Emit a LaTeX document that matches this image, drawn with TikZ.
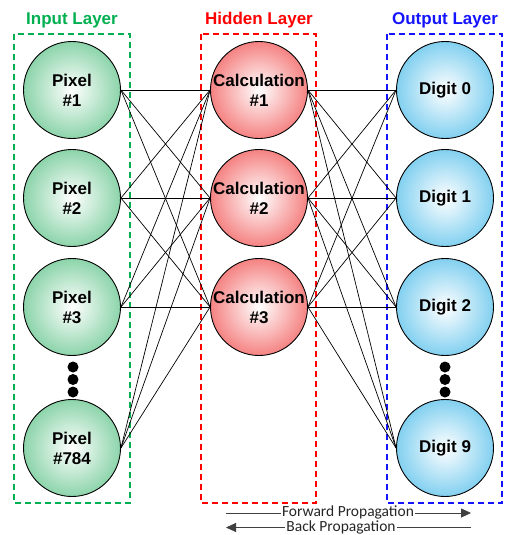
\documentclass[tikz,border=0pt]{standalone}
\usepackage{fontspec}
\setmainfont{Liberation Sans}
\newfontfamily\carl{Carlito}
\usetikzlibrary{arrows.meta}
\definecolor{ingreen}{RGB}{0,176,80}
\definecolor{hidred}{RGB}{255,0,0}
\definecolor{outblue}{RGB}{20,20,255}
\definecolor{gfill}{RGB}{140,212,170}
\definecolor{rfill}{RGB}{245,130,130}
\definecolor{bfill}{RGB}{130,208,240}
\begin{document}
\begin{tikzpicture}[x=1pt,y=-1pt,
  neuron/.style={circle,draw=black,line width=0.9pt,minimum size=97pt,inner sep=0pt,
    align=center,font=\fontsize{17}{20}\selectfont\bfseries},
  inn/.style={neuron,shading=radial,inner color=white,outer color=gfill},
  hid/.style={neuron,shading=radial,inner color=white,outer color=rfill},
  outn/.style={neuron,shading=radial,inner color=white,outer color=bfill},
  layerbox/.style={dash pattern=on 6pt off 4pt,line width=1.3pt},
  title/.style={font=\fontsize{17}{20}\selectfont\bfseries},
  conn/.style={line width=0.7pt,black},
  dot/.style={circle,fill=black,minimum size=11pt,inner sep=0pt},
  prop/.style={line width=0.8pt,black!75,-{Triangle[length=10pt,width=9pt]}},
  proptext/.style={fill=white,inner xsep=1pt,inner ysep=0pt,font=\carl\fontsize{15.5}{15.5}\selectfont,text=black!85}]
\useasboundingbox (0,0) rectangle (511,535);
% boxes
\draw[layerbox,ingreen] (14,34) rectangle (130,503);
\draw[layerbox,hidred] (201,34) rectangle (316,503);
\draw[layerbox,outblue] (387,34) rectangle (502,503);
% titles
\node[title,text=ingreen] (t1) at (72,20) {Input Layer};
\node[title,text=hidred] (t2) at (259,20) {Hidden Layer};
\node[title,text=outblue] (t3) at (445,20) {Output Layer};
% input
\node[inn] (i1) at (72,90) {Pixel\\\#1};
\node[inn] (i2) at (72,198) {Pixel\\\#2};
\node[inn] (i3) at (72,307) {Pixel\\\#3};
\node[inn] (i4) at (72,448) {Pixel\\\#784};
% hidden
\node[hid] (h1) at (259,90) {Calculation\\\#1};
\node[hid] (h2) at (259,198) {Calculation\\\#2};
\node[hid] (h3) at (259,307) {Calculation\\\#3};
% output
\node[outn] (o1) at (445,90) {Digit 0};
\node[outn] (o2) at (445,198) {Digit 1};
\node[outn] (o3) at (445,307) {Digit 2};
\node[outn] (o4) at (445,448) {Digit 9};
% dots
\node[dot] (d1) at (73,367) {};
\node[dot] (d2) at (73,379.5) {};
\node[dot] (d3) at (73,392) {};
\node[dot] (e1) at (445,367) {};
\node[dot] (e2) at (445,379.5) {};
\node[dot] (e3) at (445,392) {};
% connections
\foreach \a in {i1,i2,i3,i4}{
  \foreach \b in {h1,h2,h3}{
    \draw[conn] (\a.east) -- (\b.west);
  }
}
\foreach \a in {h1,h2,h3}{
  \foreach \b in {o1,o2,o3,o4}{
    \draw[conn] (\a.east) -- (\b.west);
  }
}
% propagation arrows
\coordinate (fa) at (226,513);
\coordinate (fb) at (471,513);
\coordinate (ba) at (471,527.5);
\coordinate (bb) at (226,527.5);
\draw[prop] (fa) -- (fb);
\draw[prop] (ba) -- (bb);
\node[proptext] (ft) at (348,512) {Forward Propagation};
\node[proptext] (bt) at (341,527) {Back Propagation};
\end{tikzpicture}
\end{document}
